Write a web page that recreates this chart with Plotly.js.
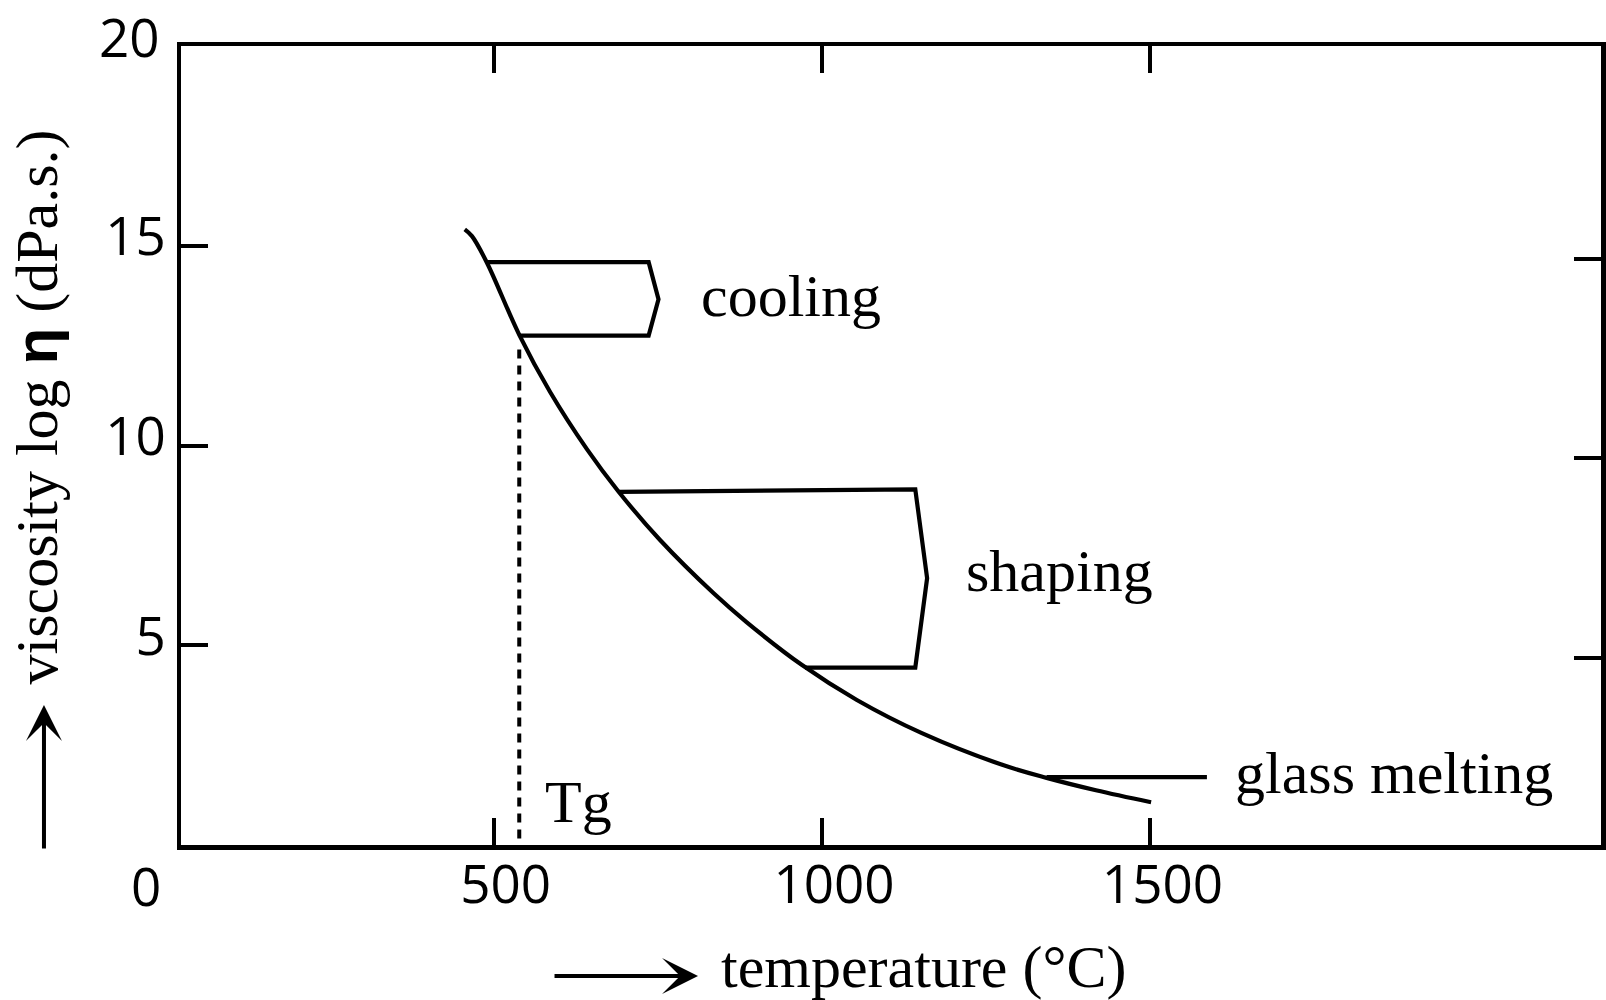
<!DOCTYPE html>
<html>
<head>
<meta charset="utf-8">
<script src="https://cdn.plot.ly/plotly-3.0.1.min.js"></script>
<style>
  html, body { margin: 0; padding: 0; background: #ffffff; }
  #chart { width: 1606px; height: 1000px; }
</style>
</head>
<body>
<div id="chart"></div>
<script>
// ---- data ----
// viscosity curve: temperature (°C) vs log eta (dPa.s)
const curveTemp   = [456, 467, 490, 539, 586, 642, 690, 753, 835, 885, 969, 1053, 1152, 1272, 1342, 1417, 1501];
const curveLogEta = [15.41, 15.24, 14.57, 12.77, 11.34, 9.91, 8.85, 7.64, 6.30, 5.58, 4.51, 3.63, 2.80, 2.02, 1.68, 1.37, 1.07];

// cooling range marker
const coolingTemp   = [489, 736, 751, 736, 539];
const coolingLogEta = [14.59, 14.59, 13.66, 12.75, 12.75];

// shaping range marker
const shapingTemp   = [690, 1142, 1160, 1142, 974];
const shapingLogEta = [8.84, 8.90, 6.68, 4.44, 4.44];

// glass melting marker
const meltingTemp   = [1342, 1586];
const meltingLogEta = [1.70, 1.70];

// glass transition temperature Tg (dashed)
const tgTemp   = [539, 539];
const tgLogEta = [12.4, 0];

// axis ticks
const xTickVals   = [500, 1000, 1500];
const xTickLabels = ['500', '1000', '1500'];
const yTickVals   = [5, 10, 15, 20];
const yTickLabels = ['5', '10', '15', '20'];
const rightTickVals = [5, 10, 15];

// text labels
const stageLabels = ['cooling', 'shaping', 'glass melting', 'Tg'];
const xTitle = 'temperature (°C)';
const yTitle = 'viscosity log <span style="font-family:\'Liberation Sans\';font-weight:bold">η</span> (dPa.s.)';
const originLabel = '0';

// ---- drawing ----
const black = '#000000';
const serif = 'Liberation Serif, Times New Roman, serif';
const sans = 'Open Sans, Noto Sans, sans-serif';
const lineW = 4.2;
const tickFont = { family: sans, size: 53, color: black };

const traces = [
  { x: curveTemp, y: curveLogEta, mode: 'lines', line: { color: black, width: lineW, shape: 'spline', smoothing: 1, simplify: false }, hoverinfo: 'skip' },
  { x: coolingTemp, y: coolingLogEta, mode: 'lines', line: { color: black, width: lineW }, hoverinfo: 'skip' },
  { x: shapingTemp, y: shapingLogEta, mode: 'lines', line: { color: black, width: lineW }, hoverinfo: 'skip' },
  { x: meltingTemp, y: meltingLogEta, mode: 'lines', line: { color: black, width: lineW }, hoverinfo: 'skip' },
  { x: tgTemp, y: tgLogEta, mode: 'lines', line: { color: black, width: 4, dash: '9px,7px' }, hoverinfo: 'skip' },
  { x: [], y: [], yaxis: 'y2', mode: 'lines', hoverinfo: 'skip' }
];

const labelFont = { family: serif, size: 60, color: black };

// the top tick label (20) sits at the very edge of the range, so it is drawn as an annotation
const lastY = yTickVals.length - 1;

const layout = {
  width: 1606,
  height: 1000,
  margin: { l: 181, r: 5, t: 46, b: 155, pad: 0 },
  paper_bgcolor: '#ffffff',
  plot_bgcolor: '#ffffff',
  showlegend: false,
  xaxis: {
    range: [24, 2186],
    tickmode: 'array',
    tickvals: xTickVals,
    ticktext: xTickLabels,
    ticks: 'inside',
    ticklen: 27,
    tickwidth: 4,
    tickcolor: black,
    showline: true,
    linewidth: 4.5,
    linecolor: black,
    mirror: 'ticks',
    showgrid: false,
    zeroline: false,
    tickfont: tickFont,
    ticklabelshift: 12,
    ticklabelstandoff: -10
  },
  yaxis: {
    range: [0, 20],
    tickmode: 'array',
    tickvals: yTickVals.slice(0, lastY),
    ticktext: yTickLabels.slice(0, lastY),
    ticks: 'inside',
    ticklen: 27,
    tickwidth: 4,
    tickcolor: black,
    showline: true,
    linewidth: 4.5,
    linecolor: black,
    mirror: true,
    showgrid: false,
    zeroline: false,
    tickfont: tickFont,
    ticklabelshift: -9
  },
  yaxis2: {
    overlaying: 'y',
    side: 'right',
    range: [0.32, 20.32],
    tickmode: 'array',
    tickvals: rightTickVals,
    ticks: 'inside',
    ticklen: 27,
    tickwidth: 4,
    tickcolor: black,
    showticklabels: false,
    showline: true,
    linewidth: 4.5,
    linecolor: black,
    showgrid: false,
    zeroline: false
  },
  annotations: [
    { text: stageLabels[0], x: 813, y: 13.75, xref: 'x', yref: 'y', xanchor: 'left', yanchor: 'middle', showarrow: false, font: labelFont },
    { text: stageLabels[1], x: 1216, y: 6.87, xref: 'x', yref: 'y', xanchor: 'left', yanchor: 'middle', showarrow: false, font: labelFont },
    { text: stageLabels[2], x: 1626, y: 1.80, xref: 'x', yref: 'y', xanchor: 'left', yanchor: 'middle', showarrow: false, font: labelFont },
    { text: stageLabels[3], x: 575, y: 1.07, xref: 'x', yref: 'y', xanchor: 'left', yanchor: 'middle', showarrow: false, font: labelFont },
    { text: yTitle, textangle: -90, x: -0.1021, y: 0.5477, xref: 'paper', yref: 'paper', xanchor: 'center', yanchor: 'middle', showarrow: false, font: labelFont },
    { text: xTitle, x: 0.5232, y: -0.1532, xref: 'paper', yref: 'paper', xanchor: 'center', yanchor: 'middle', showarrow: false, font: labelFont },
    { text: originLabel, x: -0.0244, y: -0.051, xref: 'paper', yref: 'paper', xanchor: 'center', yanchor: 'middle', showarrow: false, font: tickFont },
    { text: yTickLabels[lastY], x: -0.0134, y: 1.0119, xref: 'paper', yref: 'paper', xanchor: 'right', yanchor: 'middle', showarrow: false, font: tickFont },
    // arrows next to the axis titles
    { text: '', x: -0.0965, y: 0.1752, xref: 'paper', yref: 'paper', showarrow: true, ax: 0, ay: 145, axref: 'pixel', ayref: 'pixel', arrowhead: 3, arrowsize: 1.5, arrowwidth: 4, arrowcolor: black, standoff: 0, startstandoff: 0 },
    { text: '', x: 0.3641, y: -0.164, xref: 'paper', yref: 'paper', showarrow: true, ax: -145, ay: 0, axref: 'pixel', ayref: 'pixel', arrowhead: 3, arrowsize: 1.5, arrowwidth: 4, arrowcolor: black, standoff: 0, startstandoff: 0 }
  ]
};

Plotly.newPlot('chart', traces, layout, { staticPlot: true, displayModeBar: false });
</script>
</body>
</html>
